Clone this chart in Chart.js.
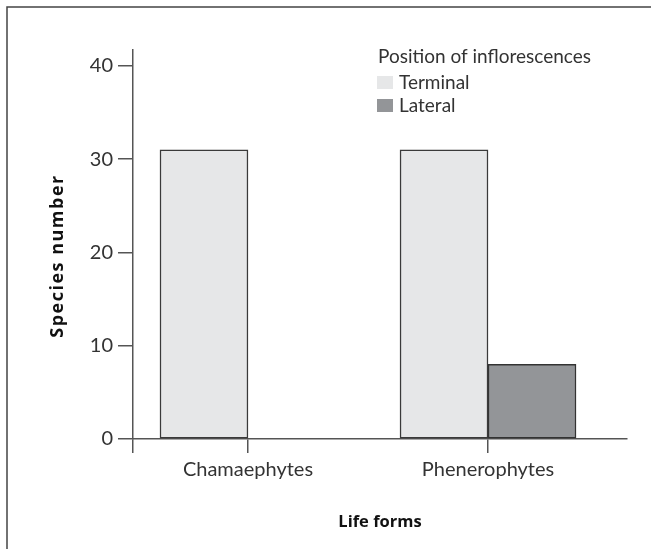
<!DOCTYPE html>
<html lang="en">
<head>
  <meta charset="UTF-8" />
  <title>Life forms</title>
  <script src="https://cdn.jsdelivr.net/npm/chart.js"></script>
  <style>
    body { margin: 0; background: #fff; }
    .wrap { width: 651px; height: 549px; }
  </style>
</head>
<body>
  <div class="wrap"><canvas id="chart" width="651" height="549"></canvas></div>

  <script>
    // data
    const categories = ['Chamaephytes', 'Phenerophytes'];
    const terminal = [31, 31];
    const lateral = [0, 8];
    const seriesNames = ['Terminal', 'Lateral'];
    const legendTitle = 'Position of inflorescences';
    const xTitle = 'Life forms';
    const yTitle = 'Species number';

    const axisColor = '#555';
    const textColor = '#333';
    const tickFont = { family: 'Lato', size: 20 };

    // frame, legend and y title drawn on the canvas
    const decor = {
      id: 'decor',
      beforeDraw(chart) {
        const ctx = chart.ctx;
        ctx.save();
        ctx.strokeStyle = '#444';
        ctx.lineWidth = 1.5;
        ctx.beginPath();
        ctx.moveTo(7, chart.height);
        ctx.lineTo(7, 7);
        ctx.lineTo(chart.width, 7);
        ctx.stroke();
        ctx.restore();
      },
      afterDraw(chart) {
        const ctx = chart.ctx;
        ctx.save();
        ctx.fillStyle = textColor;
        ctx.font = '19px Lato';
        ctx.textBaseline = 'alphabetic';
        ctx.fillText(legendTitle, 378, 63);
        chart.data.datasets.forEach((ds, i) => {
          const y = 89 + i * 23;
          ctx.fillStyle = ds.backgroundColor;
          ctx.fillRect(377, y - 13, 16, 13);
          ctx.fillStyle = textColor;
          ctx.fillText(ds.label, 399, y);
        });
        // y axis title
        ctx.translate(58, 256);
        ctx.rotate(-Math.PI / 2);
        ctx.font = 'bold 18px "Open Sans"';
        ctx.letterSpacing = '1.5px';
        ctx.textAlign = 'center';
        ctx.textBaseline = 'middle';
        ctx.fillStyle = '#111';
        ctx.fillText(yTitle, 0, 0);
        ctx.restore();
      }
    };

    new Chart(document.getElementById('chart'), {
      type: 'bar',
      data: {
        datasets: [
          {
            label: seriesNames[0],
            data: terminal.map((v, i) => ({ x: i, y: v })),
            backgroundColor: '#e6e7e8',
            borderColor: '#3a3a3a',
            borderWidth: 1.5,
            borderSkipped: false
          },
          {
            label: seriesNames[1],
            data: lateral.map((v, i) => ({ x: i, y: v })),
            backgroundColor: '#939598',
            borderColor: '#333',
            borderWidth: 1.5,
            borderSkipped: false
          }
        ]
      },
      options: {
        responsive: false,
        animation: false,
        barThickness: 88,
        layout: { padding: { left: 0, top: 50, right: 24, bottom: 0 } },
        plugins: {
          legend: { display: false },
          tooltip: { enabled: false }
        },
        scales: {
          x: {
            type: 'linear',
            offset: false,
            min: -0.479,
            max: 1.579,
            afterBuildTicks: (scale) => {
              scale.ticks = [scale.min, 0, 1].map(v => ({ value: v }));
            },
            afterFit: (scale) => { scale.height = 110; },
            grid: { offset: false, drawOnChartArea: false, drawTicks: true, tickLength: 14, color: axisColor, lineWidth: 1.5 },
            border: { display: true, color: axisColor, width: 1.5 },
            ticks: {
              color: textColor,
              font: tickFont,
              padding: 5,
              maxRotation: 0,
              autoSkip: false,
              callback: (value, index) => ['', ...categories][index]
            },
            title: {
              display: true,
              text: xTitle,
              color: '#111',
              font: { family: 'Open Sans', size: 16.5, weight: 'bold' },
              padding: { top: 0, bottom: 17 }
            }
          },
          y: {
            min: 0,
            max: 41.7,
            afterFit: (scale) => { scale.width = 133; },
            grid: { drawOnChartArea: false, drawTicks: true, tickLength: 15, color: axisColor, lineWidth: 1.5 },
            border: { display: true, color: axisColor, width: 1.5 },
            ticks: {
              stepSize: 10,
              includeBounds: false,
              color: textColor,
              font: tickFont,
              padding: 5
            }
          }
        }
      },
      plugins: [decor]
    });
  </script>
</body>
</html>
